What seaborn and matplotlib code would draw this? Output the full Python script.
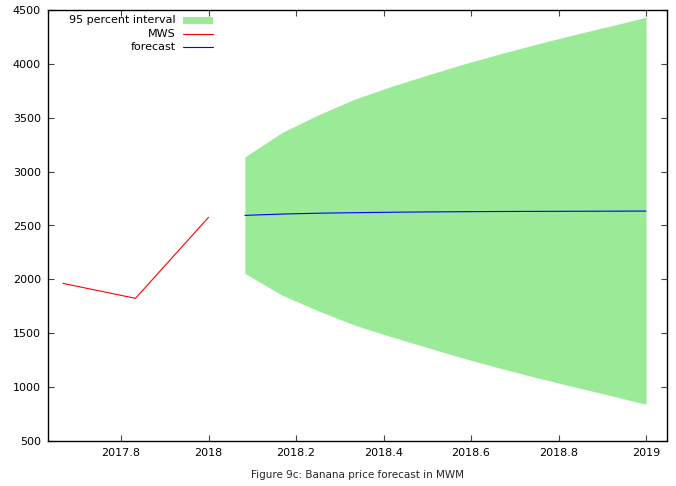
import matplotlib
matplotlib.use("Agg")
import matplotlib.pyplot as plt
import seaborn as sns
import pandas as pd
from matplotlib.patches import Rectangle
from matplotlib.lines import Line2D

# ---- data ----
mws_x = [2017.667, 2017.833, 2018.0]
mws_y = [1963, 1824, 2576]

fc_x = [2018.083, 2018.167, 2018.25, 2018.333, 2018.417, 2018.5,
        2018.583, 2018.667, 2018.75, 2018.833, 2018.917, 2019.0]
fc_y = [2594, 2606, 2614, 2619, 2623, 2626, 2628, 2630, 2631, 2632, 2633, 2634]
upper = [3136, 3361, 3525, 3671, 3790, 3896, 3998, 4094, 4183, 4268, 4350, 4432]
lower = [2056, 1856, 1709, 1577, 1468, 1368, 1268, 1175, 1088, 1005, 924, 840]

x_ticks = [2017.8, 2018.0, 2018.2, 2018.4, 2018.6, 2018.8, 2019.0]
x_tick_labels = ["2017.8", "2018", "2018.2", "2018.4", "2018.6", "2018.8", "2019"]
y_ticks = [500, 1000, 1500, 2000, 2500, 3000, 3500, 4000, 4500]
caption = "Figure 9c: Banana price forecast in MWM"

sns.set_theme(style="white")
plt.rcParams["font.family"] = ["DejaVu Sans"]

fig = plt.figure(figsize=(6.76, 4.86), dpi=100)
ax = fig.add_axes([48/676, 45/486, (667-48)/676, (441-10)/486])

green = "#9AEA98"
ax.fill_between(fc_x, lower, upper, color=green, linewidth=0)
sns.lineplot(x=mws_x, y=mws_y, ax=ax, color="#FF0000", linewidth=0.8)
sns.lineplot(x=fc_x, y=fc_y, ax=ax, color="#0000FF", linewidth=0.8)

ax.set_xlim(2017.633, 2019.048)
ax.set_ylim(500, 4500)
ax.set_xticks(x_ticks)
ax.set_xticklabels(x_tick_labels)
ax.set_yticks(y_ticks)
ax.tick_params(direction="in", length=4, width=0.8, colors="#444444",
               labelsize=8, top=True, right=True, bottom=True, left=True,
               labelcolor="black", pad=5)
for s in ax.spines.values():
    s.set_color("black")
    s.set_linewidth(1.0)
ax.set_xlabel(caption, fontsize=7.5, labelpad=9)
ax.set_ylabel("")

# legend (gnuplot style: right-aligned text, sample on right)
def ax_x(px):
    return (px - 48) / (667 - 48)

def ax_y(py):
    return (441 - py) / (441 - 10)

labels = ["95 percent interval", "MWS", "forecast"]
rows = [20, 34, 47]
for lab, ry in zip(labels, rows):
    ax.text(ax_x(176), ax_y(ry), lab, transform=ax.transAxes, ha="right",
            va="center", fontsize=8, color="black")
ax.add_patch(Rectangle((ax_x(183), ax_y(24)), ax_x(213) - ax_x(183),
                       ax_y(17) - ax_y(24), transform=ax.transAxes,
                       facecolor=green, edgecolor="none"))
ax.add_line(Line2D([ax_x(183), ax_x(213)], [ax_y(34), ax_y(34)],
                   transform=ax.transAxes, color="#FF0000", linewidth=0.8))
ax.add_line(Line2D([ax_x(183), ax_x(213)], [ax_y(47), ax_y(47)],
                   transform=ax.transAxes, color="#0000FF", linewidth=0.8))

fig.savefig("out.png", dpi=100)
